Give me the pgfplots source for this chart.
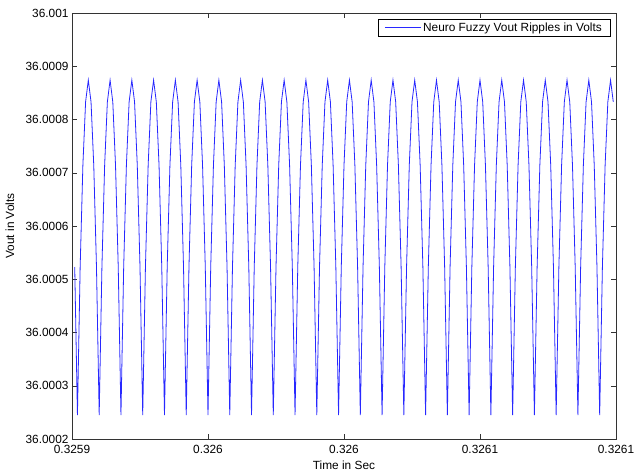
\documentclass[border=0pt]{standalone}
\usepackage{fontspec}
\setmainfont{Liberation Sans}
\usepackage{pgfplots}
\pgfplotsset{compat=1.18}
\definecolor{mblue}{RGB}{40,40,255}
\begin{document}
\begin{tikzpicture}
\path[use as bounding box] (-72bp,-34bp) rectangle (562bp,439bp);
\begin{axis}[
  at={(0,0)}, anchor=south west,
  scale only axis, width=544bp, height=426bp,
  xmin=0, xmax=200, ymin=2, ymax=10,
  xtick={0,50,100,150,200},
  xticklabels={0.3259,0.326,0.326,0.3261,0.3261},
  ytick={2,3,4,5,6,7,8,9,10},
  yticklabels={36.0002,36.0003,36.0004,36.0005,36.0006,36.0007,36.0008,36.0009,36.001},
  /pgf/number format/assume math mode=true,
  tick align=inside, tick pos=both,
  major tick length=5.4bp,
  axis line style={line width=0.5bp, black!80},
  every tick/.style={line width=0.5bp, black!80},
  tick label style={font=\fontsize{11.9}{14}\selectfont},
  xticklabel style={yshift=-3bp},
  xlabel={Time in Sec},
  ylabel={Vout in Volts},
  every axis x label/.style={at={(axis description cs:0.5,-0.061)}, anchor=center, font=\fontsize{11.9}{14}\selectfont},
  every axis y label/.style={at={(axis description cs:-0.114,0.5)}, rotate=90, anchor=center, font=\fontsize{11.9}{14}\selectfont},
  legend style={at={(axis description cs:1,1)}, anchor=north east, xshift=-6bp, yshift=-6bp,
    line width=0.5bp, inner xsep=6bp, inner ysep=1.5bp,
    font=\fontsize{11.9}{14}\selectfont},
  legend cell align=left,
  legend image code/.code={\draw[#1] (0bp,0bp) -- (36bp,0bp);},
]
\addplot[color=mblue, line width=0.8bp] coordinates {
(1,5.23)
(2,2.45)(3,5.23)(4,7.14)(5,8.33)(6,8.74)(7,8.33)(8,7.14)(9,5.23)
(10,2.45)(11,5.23)(12,7.14)(13,8.33)(14,8.74)(15,8.33)(16,7.14)(17,5.23)
(18,2.45)(19,5.23)(20,7.14)(21,8.33)(22,8.74)(23,8.33)(24,7.14)(25,5.23)
(26,2.45)(27,5.23)(28,7.14)(29,8.33)(30,8.74)(31,8.33)(32,7.14)(33,5.23)
(34,2.45)(35,5.23)(36,7.14)(37,8.33)(38,8.74)(39,8.33)(40,7.14)(41,5.23)
(42,2.45)(43,5.23)(44,7.14)(45,8.33)(46,8.74)(47,8.33)(48,7.14)(49,5.23)
(50,2.45)(51,5.23)(52,7.14)(53,8.33)(54,8.74)(55,8.33)(56,7.14)(57,5.23)
(58,2.45)(59,5.23)(60,7.14)(61,8.33)(62,8.74)(63,8.33)(64,7.14)(65,5.23)
(66,2.45)(67,5.23)(68,7.14)(69,8.33)(70,8.74)(71,8.33)(72,7.14)(73,5.23)
(74,2.45)(75,5.23)(76,7.14)(77,8.33)(78,8.74)(79,8.33)(80,7.14)(81,5.23)
(82,2.45)(83,5.23)(84,7.14)(85,8.33)(86,8.74)(87,8.33)(88,7.14)(89,5.23)
(90,2.45)(91,5.23)(92,7.14)(93,8.33)(94,8.74)(95,8.33)(96,7.14)(97,5.23)
(98,2.45)(99,5.23)(100,7.14)(101,8.33)(102,8.74)(103,8.33)(104,7.14)(105,5.23)
(106,2.45)(107,5.23)(108,7.14)(109,8.33)(110,8.74)(111,8.33)(112,7.14)(113,5.23)
(114,2.45)(115,5.23)(116,7.14)(117,8.33)(118,8.74)(119,8.33)(120,7.14)(121,5.23)
(122,2.45)(123,5.23)(124,7.14)(125,8.33)(126,8.74)(127,8.33)(128,7.14)(129,5.23)
(130,2.45)(131,5.23)(132,7.14)(133,8.33)(134,8.74)(135,8.33)(136,7.14)(137,5.23)
(138,2.45)(139,5.23)(140,7.14)(141,8.33)(142,8.74)(143,8.33)(144,7.14)(145,5.23)
(146,2.45)(147,5.23)(148,7.14)(149,8.33)(150,8.74)(151,8.33)(152,7.14)(153,5.23)
(154,2.45)(155,5.23)(156,7.14)(157,8.33)(158,8.74)(159,8.33)(160,7.14)(161,5.23)
(162,2.45)(163,5.23)(164,7.14)(165,8.33)(166,8.74)(167,8.33)(168,7.14)(169,5.23)
(170,2.45)(171,5.23)(172,7.14)(173,8.33)(174,8.74)(175,8.33)(176,7.14)(177,5.23)
(178,2.45)(179,5.23)(180,7.14)(181,8.33)(182,8.74)(183,8.33)(184,7.14)(185,5.23)
(186,2.45)(187,5.23)(188,7.14)(189,8.33)(190,8.74)(191,8.33)(192,7.14)(193,5.23)
(194,2.45)(195,5.23)(196,7.14)(197,8.33)(198,8.74)(199,8.33)
};
\addlegendentry{Neuro Fuzzy Vout Ripples in Volts}
\end{axis}
\end{tikzpicture}
\end{document}
